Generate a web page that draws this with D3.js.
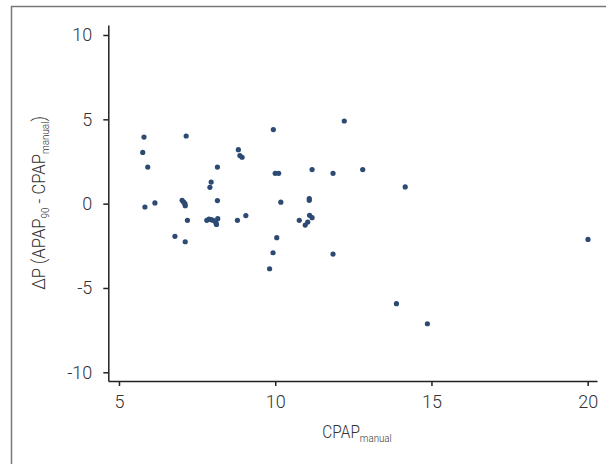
<!DOCTYPE html>
<html><head><meta charset="utf-8">
<script src="https://cdn.jsdelivr.net/npm/d3@7"></script>
<style>
html,body{margin:0;padding:0;background:#fff;}
svg text{font-family:Roboto,"Liberation Sans",sans-serif;font-weight:300;fill:#333;}
</style></head><body>
<svg id="c" width="606" height="464"></svg>
<script>
const cpapManual = [5.80,7.15,5.76,5.92,8.15,7.95,7.91,5.83,6.15,7.02,7.07,7.11,7.12,8.15,7.19,7.81,7.88,7.95,8.01,8.10,8.16,8.12,6.79,7.12,
  9.94,8.82,8.87,8.94,12.21,10.00,10.11,11.18,11.85,10.18,11.09,11.09,8.79,9.06,10.77,11.10,11.18,11.04,10.96,10.05,9.93,9.82,12.80,14.16,11.85,13.88,14.87,20.01];
const deltaP = [3.95,4.01,3.04,2.17,2.17,1.28,0.97,-0.20,0.04,0.20,0.09,0.00,-0.12,0.18,-0.99,-0.99,-0.91,-0.95,-0.99,-1.13,-0.89,-1.23,-1.94,-2.26,
  4.39,3.20,2.85,2.75,4.90,1.80,1.80,2.02,1.80,0.09,0.30,0.20,-0.99,-0.71,-0.99,-0.69,-0.83,-1.09,-1.27,-2.02,-2.91,-3.86,2.02,0.99,-2.99,-5.93,-7.12,-2.12];
const xTicks = [5,10,15,20];
const yTicks = [-10,-5,0,5,10];

const svg = d3.select("#c");
svg.append("rect").attr("x",11.5).attr("y",6.5).attr("width",620).attr("height",480)
  .attr("fill","none").attr("stroke","#777").attr("stroke-width",1.5);

const x = d3.scaleLinear().domain([4.658,20.298]).range([108.3,597]);
const y = d3.scaleLinear().domain([-10.516,10.593]).range([381,25]);
const fmt = d => String(d);

const xAxis = svg.append("g").attr("transform","translate(0,381)")
  .call(d3.axisBottom(x).tickValues(xTicks).tickFormat(fmt).tickSize(5).tickSizeOuter(0).tickPadding(9));
const yAxis = svg.append("g").attr("transform","translate(108.3,0)")
  .call(d3.axisLeft(y).tickValues(yTicks).tickFormat(fmt).tickSize(5).tickSizeOuter(0).tickPadding(11));
[xAxis,yAxis].forEach(g=>{
  g.select(".domain").attr("stroke","#222").attr("stroke-width",1.5);
  g.selectAll(".tick line").attr("stroke","#222").attr("stroke-width",1.5);
  g.selectAll(".tick text").attr("font-size",18).attr("fill","#333")
    .style("font-family",'Roboto,sans-serif').style("font-weight",300);
});

svg.append("g").selectAll("circle").data(cpapManual).join("circle")
  .attr("cx",(d)=>x(d)).attr("cy",(d,i)=>y(deltaP[i])).attr("r",2.6)
  .attr("fill","#2c4a72");

const xl = svg.append("text").attr("x",357).attr("y",438).attr("text-anchor","middle").attr("font-size",17.5)
  .attr("transform","translate(357,0) scale(0.88,1) translate(-357,0)");
xl.append("tspan").text("CPAP");
xl.append("tspan").attr("font-size",11).attr("dy",4).text("manual");

const yl = svg.append("text").attr("transform","translate(45,203) rotate(-90) scale(0.9,1)").attr("text-anchor","middle").attr("font-size",18.5);
yl.append("tspan").text("ΔP (APAP");
yl.append("tspan").attr("font-size",11).attr("dy",4).text("90");
yl.append("tspan").attr("dy",-4).text(" - CPAP");
yl.append("tspan").attr("font-size",11).attr("dy",4).text("manual");
yl.append("tspan").attr("dy",-4).text(")");
</script>
</body></html>
